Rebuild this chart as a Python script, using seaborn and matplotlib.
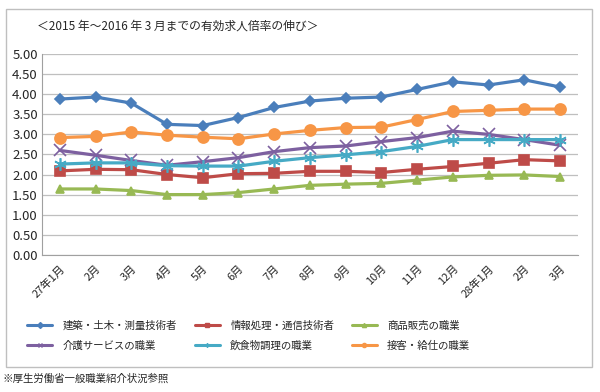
import numpy as np
import pandas as pd
import matplotlib
matplotlib.use("Agg")
import matplotlib.pyplot as plt
import seaborn as sns
from matplotlib.patches import Rectangle
from matplotlib.lines import Line2D

months = ["27年1月", "2月", "3月", "4月", "5月", "6月", "7月", "8月", "9月",
          "10月", "11月", "12月", "28年1月", "2月", "3月"]

kensetsu = [3.88, 3.93, 3.78, 3.25, 3.22, 3.42, 3.67, 3.83, 3.90, 3.93, 4.12, 4.31, 4.23, 4.36, 4.18]
joho = [2.09, 2.13, 2.12, 2.00, 1.92, 2.02, 2.03, 2.08, 2.08, 2.05, 2.13, 2.20, 2.28, 2.37, 2.34]
shohin = [1.64, 1.64, 1.60, 1.50, 1.50, 1.55, 1.64, 1.73, 1.76, 1.78, 1.86, 1.94, 1.98, 1.99, 1.95]
kaigo = [2.60, 2.48, 2.35, 2.23, 2.32, 2.42, 2.57, 2.67, 2.71, 2.82, 2.92, 3.08, 3.00, 2.87, 2.73]
inshoku = [2.26, 2.29, 2.29, 2.22, 2.21, 2.21, 2.33, 2.42, 2.49, 2.57, 2.70, 2.87, 2.87, 2.87, 2.87]
sekkyaku = [2.92, 2.95, 3.06, 2.98, 2.93, 2.89, 3.01, 3.10, 3.17, 3.18, 3.37, 3.57, 3.60, 3.63, 3.63]

series_names = ["建築・土木・測量技術者", "情報処理・通信技術者", "商品販売の職業",
                "介護サービスの職業", "飲食物調理の職業", "接客・給仕の職業"]
series_vals = [kensetsu, joho, shohin, kaigo, inshoku, sekkyaku]
colors = ["#4A7EBB", "#BE4B48", "#98B954", "#7D60A0", "#46AAC5", "#F79646"]
markers = ["D", "s", "^", "x", (6, 2, 0), "o"]
msizes = [5, 7, 6, 8, 9, 8]

sns.set_style("white")
plt.rcParams['font.family'] = ['Noto Sans CJK JP', 'DejaVu Sans']

fig = plt.figure(figsize=(6, 3.92), dpi=100)
ax = fig.add_axes([0.07, 0.35, 0.893, 0.512])

x = np.arange(len(months))
for name, vals, c, m, ms in zip(series_names, series_vals, colors, markers, msizes):
    sns.lineplot(x=x, y=vals, ax=ax, color=c, marker=m, markersize=ms,
                 linewidth=2.3, markeredgecolor=c, markeredgewidth=1.2)

ax.set_xlim(-0.5, len(months) - 0.5)
ax.set_ylim(0, 5)
ax.set_yticks(np.arange(0, 5.01, 0.5))
ax.set_yticklabels([f"{v:.2f}" for v in np.arange(0, 5.01, 0.5)], fontsize=9.5)
ax.set_xticks(x)
ax.set_xticklabels(months, rotation=45, ha="right", rotation_mode="anchor", fontsize=8)
ax.set_xticks(np.arange(-0.5, len(months), 1), minor=True)
ax.tick_params(axis="x", which="major", length=0, pad=6)
ax.tick_params(axis="x", which="minor", length=4, color="#a0a0a0")
ax.tick_params(axis="y", length=0, pad=3)
ax.yaxis.grid(True, color="#bfbfbf", linewidth=0.9)
for s in ["top", "right"]:
    ax.spines[s].set_visible(False)
ax.spines["left"].set_color("#a0a0a0")
ax.spines["bottom"].set_color("#a0a0a0")

# legend with small markers, Excel-like
handles = [Line2D([], [], color=c, marker=m, markersize=3, linewidth=2.2,
                  markeredgecolor=c) for c, m in zip(colors, markers)]
order = [0, 3, 1, 4, 2, 5]
leg = ax.legend([handles[i] for i in order], [series_names[i] for i in order],
                ncol=3, loc="upper left", bbox_to_anchor=(-0.045, -0.28), frameon=False,
                fontsize=7.5, handlelength=2.4, handletextpad=1.0, columnspacing=1.7,
                labelspacing=0.95)

fig.patches.append(Rectangle((0.01, 0.065), 0.977, 0.912, transform=fig.transFigure,
                             fill=False, edgecolor="#bfbfbf", linewidth=1))
fig.text(0.062, 0.925, "＜2015 年～2016 年 3 月までの有効求人倍率の伸び＞", fontsize=8.5)
fig.text(0.005, 0.025, "※厚生労働省一般職業紹介状況参照", fontsize=7.5)

fig.savefig("out.png", dpi=100)
